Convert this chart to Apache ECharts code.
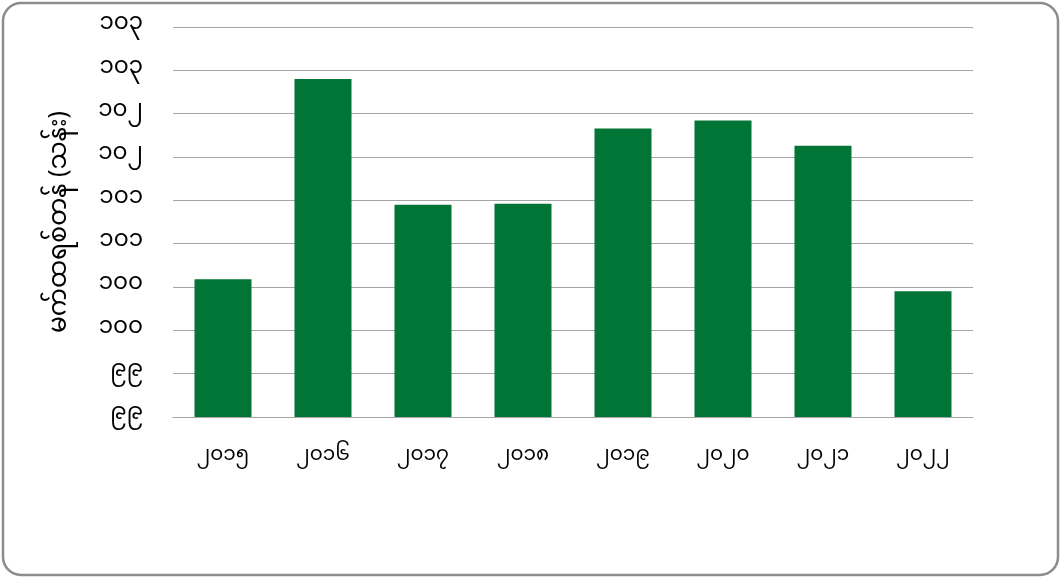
<!DOCTYPE html>
<html>
<head>
<meta charset="utf-8">
<script src="https://cdn.jsdelivr.net/npm/echarts@6/dist/echarts.min.js"></script>
<style>
  html, body { margin: 0; padding: 0; background: #ffffff; }
  #chart { width: 1061px; height: 578px; }
</style>
</head>
<body>
<div id="chart"></div>
<script>
// ---- data ----
var categories = ['၂၀၁၅', '၂၀၁၆', '၂၀၁၇', '၂၀၁၈', '၂၀၁၉', '၂၀၂၀', '၂၀၂၁', '၂၀၂၂'];
var values = [100.09, 102.40, 100.95, 100.96, 101.83, 101.92, 101.63, 99.95];
var yAxisTitle = 'မက်ထရစ်တန် (သန်း)';
var myanmarDigits = ['၀', '၁', '၂', '၃', '၄', '၅', '၆', '၇', '၈', '၉'];

function toMyanmar(n) {
  return String(n).replace(/[0-9]/g, function (d) { return myanmarDigits[+d]; });
}

var FONT = '"Noto Sans Myanmar", "Myanmar Text", Padauk, "Noto Sans", "DejaVu Sans", sans-serif';

var chart = echarts.init(document.getElementById('chart'), null, { renderer: 'canvas' });
chart.setOption({
  backgroundColor: '#ffffff',
  animation: false,
  textStyle: { fontFamily: FONT },
  graphic: [{
    type: 'rect',
    shape: { x: 3, y: 3, width: 1055, height: 572, r: 18 },
    style: { fill: 'none', stroke: '#8c8c8c', lineWidth: 2.5 },
    silent: true
  }],
  grid: { left: 173, right: 88, top: 27, bottom: 161 },
  xAxis: {
    type: 'category',
    data: categories,
    axisLine: { show: true, lineStyle: { color: '#a6a6a6', width: 1 } },
    axisTick: { show: false },
    axisLabel: { color: '#000000', fontSize: 20, margin: 31, fontFamily: FONT }
  },
  yAxis: {
    type: 'value',
    min: 98.5,
    max: 103,
    interval: 0.5,
    name: yAxisTitle,
    nameLocation: 'middle',
    nameGap: 97,
    nameRotate: 90,
    nameTextStyle: { color: '#000000', fontSize: 25, fontFamily: FONT },
    axisLine: { show: false },
    axisTick: { show: false },
    splitLine: { show: true, lineStyle: { color: '#a6a6a6', width: 1 } },
    axisLabel: {
      color: '#000000', fontSize: 23, margin: 30, fontFamily: FONT,
      formatter: function (v) { return toMyanmar(Math.round(v)); }
    }
  },
  series: [{
    type: 'bar',
    data: values,
    barWidth: '57%',
    itemStyle: { color: '#007536' }
  }]
});
</script>
</body>
</html>
